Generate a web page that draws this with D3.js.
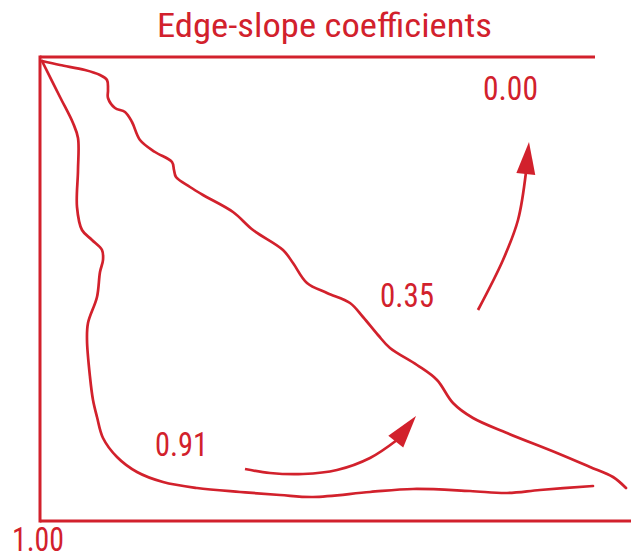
<!DOCTYPE html>
<html>
<head>
<meta charset="utf-8">
<script src="https://cdn.jsdelivr.net/npm/d3@7"></script>
<style>
  html, body { margin: 0; padding: 0; background: #fff; }
  svg { display: block; }
</style>
</head>
<body>
<div id="chart"></div>
<script>
// Diagram units: x across the frame (0..555), y down the frame (0..464)
const titleText = 'Edge-slope coefficients';

// upper/right edge of the region
const outerEdge = [
  [2, 4], [20, 8], [45, 13], [60, 18], [67, 23], [68, 33], [68, 41], [75, 51],
  [85, 55], [92, 65], [100, 83], [115, 95], [132, 105], [134, 113], [136, 120],
  [150, 130], [163, 138], [193, 155], [213, 173], [243, 193], [253, 206],
  [267, 226], [287, 236], [310, 246], [323, 260], [338, 278], [350, 291],
  [377, 308], [397, 323], [413, 346], [433, 361], [467, 376], [517, 396],
  [550, 410], [573, 420], [586, 431]
];

// left/bottom edge of the region
const innerEdge = [
  [2, 4], [20, 40], [33, 66], [38, 81], [38, 113], [37, 150], [42, 173],
  [52, 183], [62, 193], [63, 203], [60, 215], [57, 240], [48, 266], [47, 283],
  [50, 320], [53, 343], [57, 360], [63, 381], [77, 400], [97, 415], [123, 425],
  [157, 431], [200, 435], [240, 438], [273, 440], [330, 435], [373, 432],
  [430, 434], [467, 436], [500, 433], [553, 429]
];

// arrows: shaft points, then the head tip
const lowerArrow = [[205, 412], [230, 416], [263, 417], [297, 413], [330, 401], [357, 383]];
const lowerArrowTip = [376, 359];
const upperArrow = [[438, 253], [463, 203], [478, 163], [486, 115]];
const upperArrowTip = [489, 85];

const labelText = ['0.00', '0.35', '0.91', '1.00'];
const labelPos = [[443, 43], [340, 250], [115, 399], [-28, 494]];
const labelWidth = [55, 54, 53, 52];

const width = 631;
const height = 560;
const red = '#d2212c';

const x = d3.scaleLinear().domain([0, 555]).range([40, 595]);
const y = d3.scaleLinear().domain([0, 464]).range([57, 521]);

const svg = d3.select('#chart')
  .append('svg')
  .attr('width', width)
  .attr('height', height);

const fontFamily = "'Roboto Condensed', 'Liberation Sans Narrow', Roboto, 'DejaVu Sans Condensed', sans-serif";

// Title
svg.append('text')
  .attr('x', 157)
  .attr('y', 37)
  .attr('font-family', fontFamily)
  .attr('font-size', 34)
  .attr('fill', red)
  .attr('textLength', 335)
  .attr('lengthAdjust', 'spacingAndGlyphs')
  .text(titleText);

// Frame: left, top, bottom
svg.append('line')
  .attr('x1', x(0)).attr('y1', y(0) - 1.5)
  .attr('x2', x(0)).attr('y2', y(464) + 1.5)
  .attr('stroke', red).attr('stroke-width', 3);
svg.append('line')
  .attr('x1', x(0)).attr('y1', y(0))
  .attr('x2', x(555)).attr('y2', y(0))
  .attr('stroke', red).attr('stroke-width', 3);
svg.append('line')
  .attr('x1', x(0)).attr('y1', y(464))
  .attr('x2', width).attr('y2', y(464))
  .attr('stroke', red).attr('stroke-width', 3);

const line = d3.line()
  .x(d => x(d[0]))
  .y(d => y(d[1]))
  .curve(d3.curveCatmullRom.alpha(0.5));

[outerEdge, innerEdge].forEach(pts => {
  svg.append('path')
    .attr('d', line(pts))
    .attr('fill', 'none')
    .attr('stroke', red)
    .attr('stroke-width', 2.7)
    .attr('stroke-linecap', 'round');
});

function drawArrow(shaft, tip) {
  svg.append('path')
    .attr('d', line(shaft))
    .attr('fill', 'none')
    .attr('stroke', red)
    .attr('stroke-width', 2.7)
    .attr('stroke-linecap', 'butt');

  const b = shaft[shaft.length - 1];
  const bx = x(b[0]), by = y(b[1]);
  const tx = x(tip[0]), ty = y(tip[1]);
  const len = Math.hypot(tx - bx, ty - by);
  const px = -(ty - by) / len, py = (tx - bx) / len;
  const w = 9.5;
  svg.append('polygon')
    .attr('points', [
      [tx, ty],
      [bx + px * w - (tx - bx) / len * 2, by + py * w - (ty - by) / len * 2],
      [bx - px * w - (tx - bx) / len * 2, by - py * w - (ty - by) / len * 2]
    ].map(p => p.join(',')).join(' '))
    .attr('fill', red);
}

drawArrow(lowerArrow, lowerArrowTip);
drawArrow(upperArrow, upperArrowTip);

// value labels
labelText.forEach((t, i) => {
  svg.append('text')
    .attr('x', x(labelPos[i][0]))
    .attr('y', y(labelPos[i][1]))
    .attr('font-family', fontFamily)
    .attr('font-size', i === 3 ? 33 : 34)
    .attr('fill', red)
    .attr('textLength', labelWidth[i])
    .attr('lengthAdjust', 'spacingAndGlyphs')
    .text(t);
});
</script>
</body>
</html>
